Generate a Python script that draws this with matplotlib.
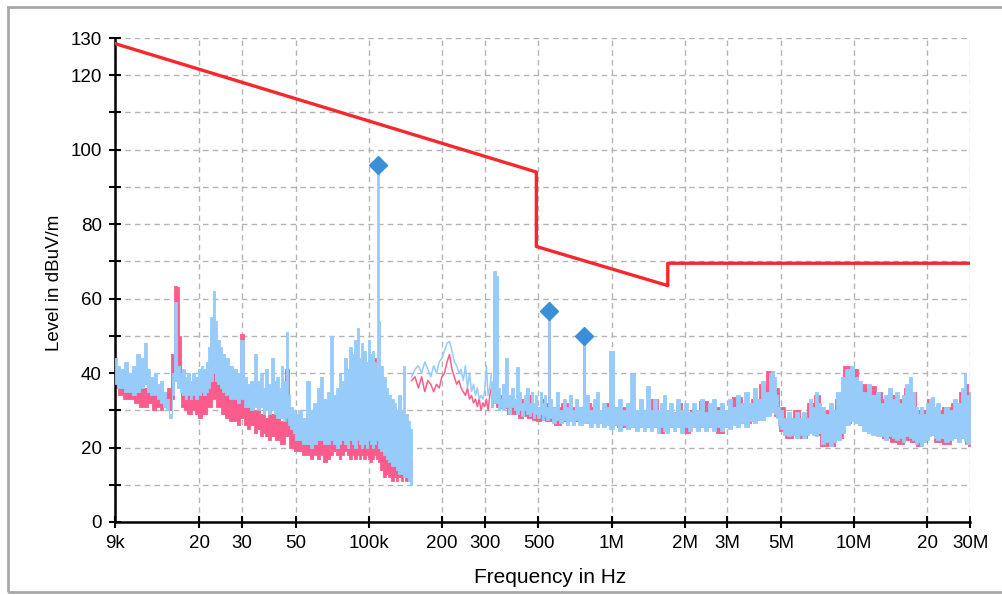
import matplotlib
matplotlib.use("Agg")
import matplotlib.pyplot as plt
from matplotlib.patches import Rectangle
from matplotlib.ticker import NullLocator

plt.rcParams['font.family'] = ['Liberation Sans', 'DejaVu Sans']

# limit line (kHz, dBuV/m)
limit_freq = [9, 490, 490, 1705, 1705, 30000]
limit_level = [128.5, 94.0, 74.0, 63.5, 69.5, 69.5]

# blue trace, 9k..150k sweep (kHz, upper, lower)
blue_lf_freq = [9.0, 9.3, 9.6, 10.0, 10.4, 10.8, 11.2, 11.6, 12.0, 12.4, 12.8, 13.2, 13.6, 14.0,
                14.4, 14.8, 15.2, 15.6, 16.0, 16.4, 16.8, 17.2, 17.6, 18.0, 18.5, 19.0, 19.5,
                20.0, 20.5, 21.0, 21.5, 22.0, 22.5, 23.0, 23.5, 24.0, 24.5, 25.0, 26.0, 27.0,
                28.0, 29.0, 30.0, 31.0, 32.0, 33.0, 34.0, 35.0, 36.0, 37.0, 38.0, 39.0, 40.0,
                41.0, 42.0, 43.0, 44.0, 45.0, 46.0, 47.0, 48.0, 49.0, 50.0, 52.0, 54.0, 56.0,
                58.0, 60.0, 62.0, 64.0, 66.0, 68.0, 70.0, 72.0, 74.0, 76.0, 78.0, 80.0, 82.0,
                84.0, 86.0, 88.0, 90.0, 92.0, 94.0, 96.0, 98.0, 100.0, 102.0, 104.0, 106.0,
                108.0, 110.0, 113.0, 116.0, 119.0, 122.0, 125.0, 128.0, 131.0, 134.0, 137.0,
                140.0, 143.0, 146.0, 150.0]
blue_lf_hi = [44, 42, 41, 43, 40, 42, 45, 44, 48, 41, 39, 40, 37, 38,
              35, 33, 29, 40, 59, 42, 40, 41, 39, 40, 38, 40, 39,
              41, 42, 41, 43, 47, 55, 62, 54, 49, 47, 45, 44, 42,
              41, 40, 49, 39, 37, 38, 45, 38, 40, 36, 41, 37, 44,
              38, 39, 36, 42, 38, 51, 34, 31, 30, 29, 30, 28, 38,
              30, 32, 36, 39, 33, 35, 50, 34, 36, 40, 38, 44, 41,
              47, 45, 49, 52, 44, 48, 46, 43, 49, 45, 46, 43,
              40, 54, 42, 39, 36, 34, 33, 32, 30, 34, 30,
              42, 29, 27, 25]
blue_lf_lo = [37, 36, 36, 35, 35, 34, 35, 36, 37, 35, 34, 34, 33, 32,
              31, 30, 28, 34, 38, 36, 35, 34, 33, 34, 33, 34, 33,
              34, 35, 34, 35, 36, 38, 40, 38, 37, 36, 35, 34, 33,
              33, 32, 33, 31, 31, 30, 31, 30, 31, 29, 30, 29, 30,
              29, 28, 28, 28, 27, 28, 26, 25, 24, 22, 22, 21, 21,
              20, 21, 22, 22, 21, 21, 22, 21, 20, 21, 22, 21, 20,
              22, 21, 20, 22, 21, 20, 21, 20, 22, 21, 20, 21,
              22, 20, 19, 18, 17, 16, 15, 15, 14, 13, 13,
              12, 12, 11, 10]

# pink trace, 9k..150k sweep
pink_lf_freq = [9.0, 9.5, 10.0, 10.5, 11.0, 11.5, 12.0, 12.5, 13.0, 13.5, 14.0, 14.5, 15.0,
                15.5, 16.0, 16.3, 16.6, 17.0, 17.5, 18.0, 18.5, 19.0, 19.5, 20.0, 21.0, 22.0,
                23.0, 24.0, 25.0, 26.0, 27.0, 28.0, 29.0, 30.0, 31.0, 32.0, 33.0, 34.0, 35.0,
                36.0, 37.0, 38.0, 39.0, 40.0, 42.0, 44.0, 46.0, 48.0, 50.0, 52.0, 54.0, 56.0,
                58.0, 60.0, 62.0, 64.0, 66.0, 68.0, 70.0, 72.0, 74.0, 76.0, 78.0, 80.0, 82.0,
                84.0, 86.0, 88.0, 90.0, 92.0, 94.0, 96.0, 98.0, 100.0, 102.0, 104.0, 106.0,
                108.0, 110.0, 113.0, 116.0, 119.0, 122.0, 125.0, 128.0, 131.0, 134.0, 137.0,
                140.0, 143.0, 146.0, 150.0]
pink_lf_hi = [40, 38, 39, 37, 40, 38, 36, 37, 35, 36, 34, 35, 36,
              45, 63.5, 63, 50, 38, 36, 37, 34, 37, 35, 36, 38, 42,
              47, 40, 37, 35, 34, 33, 32, 50.5, 33, 31, 32, 30, 31,
              29, 32, 28, 30, 29, 31, 27, 41, 28, 24, 23, 22, 24,
              21, 23, 22, 25, 22, 24, 26, 29, 24, 27, 25, 33, 26,
              30, 28, 27, 31, 26, 29, 25, 27, 28, 26, 30, 44,
              27, 28, 25, 22, 30, 23, 29, 21, 20, 19, 21,
              18, 19, 17, 16]
pink_lf_lo = [36, 34, 33, 33, 32, 31, 31, 32, 30, 31, 30, 31, 30,
              33, 40, 42, 37, 31, 30, 29, 29, 30, 29, 28, 29, 31,
              33, 31, 29, 28, 27, 27, 26, 28, 26, 25, 26, 24, 25,
              23, 24, 23, 22, 23, 22, 21, 23, 20, 19, 19, 18, 18,
              17, 18, 17, 18, 16, 17, 18, 19, 18, 17, 18, 19, 18,
              17, 18, 17, 18, 17, 18, 17, 18, 17, 16, 17, 18,
              17, 16, 14, 12, 13, 12, 11, 12, 11, 12, 11,
              12, 11, 11, 12]

# thin part of both traces, 150k..320k
mf_freq = [150, 155, 160, 165, 170, 175, 180, 185, 190, 195, 200, 205, 210, 215, 220, 225,
           230, 235, 240, 245, 250, 255, 260, 265, 270, 275, 280, 285, 290, 295, 300, 305,
           310, 315, 320]
blue_mf = [39, 41, 42, 40, 43, 41, 39, 42, 40, 43, 44, 46, 48, 48.5, 46, 43,
           42, 40, 41, 38, 42, 36, 40, 35, 37, 34, 36, 33, 34, 33, 35, 42,
           34, 36, 40]
pink_mf = [38, 39, 36, 39, 35, 38, 37, 35, 37, 36, 39, 40, 43, 45, 41, 39,
           37, 38, 36, 35, 34, 36, 33, 34, 32, 33, 31, 33, 30, 32, 31, 33,
           30, 34, 36]

# blue trace, 320k..30M
blue_hf_freq = [320, 330, 336, 342, 350, 360, 370, 380, 390, 400, 410, 420, 430, 440, 450,
                460, 470, 480, 490, 500, 510, 520, 530, 540, 560, 580, 600, 620, 640, 660,
                680, 700, 720, 740, 790, 820, 850, 875, 900, 930, 960, 1000, 1040, 1080,
                1120, 1170, 1220, 1270, 1320, 1370, 1410, 1460, 1510, 1560, 1610, 1650,
                1700, 1760, 1820, 1880, 1950, 2020, 2100, 2180, 2260, 2350, 2440, 2540,
                2640, 2740, 2850, 2960, 3080, 3200, 3330, 3460, 3600, 3740, 3890, 4040,
                4200, 4370, 4500, 4600, 4700, 4800, 4900, 5000, 5200, 5400, 5600, 5800,
                6000, 6200, 6400, 6600, 6800, 7000, 7200, 7400, 7700, 8000, 8300, 8600,
                9000, 9400, 9800, 10200, 10600, 11000, 11500, 12000, 12500, 13000, 13500,
                14000, 14500, 15000, 15500, 16000, 16500, 17000, 17500, 18000, 18500,
                19000, 19500, 20000, 20500, 21000, 21500, 22000, 23000, 24000, 25000,
                26000, 27000, 28000, 28700, 29300, 30000]
blue_hf_hi = [38, 67.5, 66, 36, 33, 37, 44, 34, 36, 33, 41.5, 35, 32, 34, 36,
              32, 35, 32, 34, 31, 35, 32, 34, 31, 33, 31, 35, 30, 33, 31,
              34, 30, 33, 31, 34, 30, 33, 35, 30, 32, 31, 46, 31, 33,
              30, 32, 40, 30, 33, 30, 36.5, 30, 33, 30, 32, 34,
              30, 32, 29.5, 33, 30, 32, 29.5, 32, 30, 33, 29.5, 32,
              33, 30, 32, 30, 33, 31, 34, 32, 35, 32, 36, 33,
              38, 35, 40, 40.5, 39, 34, 31, 30, 28, 29.5, 28, 29.5,
              28, 29.5, 28, 33, 31, 35, 32, 31, 29, 32, 30, 35,
              39, 41, 42, 39, 38, 35, 37, 34, 35, 32, 34,
              36, 33, 35, 32, 34, 37, 39, 35, 31, 29,
              31, 29, 32, 33, 33.5, 31, 32, 29, 31, 30,
              33, 32, 36, 40, 34, 35]
blue_hf_lo = [31, 32, 32, 30, 31, 30, 31, 29, 31, 30, 29, 30, 28.5, 30, 29,
              28.5, 29.5, 28, 29, 28, 29, 27.5, 28.5, 27.5, 28, 26.5, 27.5, 26.5, 27.5, 26,
              27, 26, 27.5, 26, 26.5, 25.5, 26.5, 25.5, 26.5, 25.5, 26, 25, 26, 24.5,
              26, 25, 25.5, 24.5, 25.5, 24.5, 25.5, 24.5, 25.5, 24, 25.5, 24.5,
              24, 25.5, 24.5, 25.5, 24, 25.5, 24.5, 25.5, 24.5, 25.5, 24.5, 25.5,
              24.5, 25.5, 24.5, 25.5, 25, 26, 25.5, 26.5, 25.5, 27, 26.5, 27.5,
              27.5, 28.5, 28.5, 29.5, 29, 28, 26, 25, 23.5, 23, 23.5, 22.5,
              23.5, 22.5, 23.5, 24, 23.5, 23, 24, 21, 21.5, 20.5, 21.5, 22,
              24, 26, 27, 26.5, 26, 24.5, 24, 23.5, 23, 23, 22,
              23, 22.5, 22, 22.5, 21.5, 23, 22.5, 22, 21, 21.5,
              20.5, 21.5, 22, 23, 23.5, 22.5, 22, 22.5, 21.5, 22,
              22.5, 21.5, 22.5, 22, 21, 21]

# pink trace, 320k..30M
pink_hf_freq = [320, 330, 340, 360, 380, 400, 420, 440, 460, 480, 500, 520, 540, 560, 600,
                640, 680, 720, 760, 800, 850, 900, 950, 1000, 1100, 1200, 1300, 1400, 1500,
                1600, 1700, 1800, 1900, 2000, 2200, 2400, 2600, 2800, 3000, 3300, 3600,
                3900, 4200, 4500, 4800, 5000, 5400, 5800, 6200, 6600, 7000, 7500, 8000,
                8600, 9400, 10000, 10800, 11500, 12000, 12500, 13500, 14500, 15500, 16500,
                17500, 18500, 19500, 20500, 22000, 24000, 26000, 28000, 29000, 30000]
pink_hf_hi = [34, 61, 34, 33, 33, 32, 33, 32, 34, 32, 31, 33, 32, 31, 31,
              32, 31, 30, 31, 32, 31, 30, 32, 31, 31, 30, 29.5, 30, 33,
              29, 30, 29.5, 32, 29.5, 30, 32.5, 30, 31, 30, 33.5, 32,
              33, 37, 40.5, 36, 31, 28, 30, 28, 32, 34, 30, 30,
              33, 42, 41, 37, 36, 36.5, 35, 33, 34, 33, 36,
              35, 30, 30, 33, 30, 31, 32, 35, 37, 35]
pink_hf_lo = [31, 32, 31, 30.5, 29, 29, 28, 28.5, 28, 27.5, 27, 27.5, 27, 27, 26,
              27, 27, 27, 27, 26.5, 27, 26.5, 26.5, 26, 25.5, 25.5, 25.5, 25.5, 25.5,
              24, 25.5, 25.5, 25.5, 24, 25.5, 25.5, 25.5, 24, 25.5, 26.5, 26.5,
              27.5, 28.5, 29.5, 28.5, 24.5, 22.5, 23.5, 22.5, 24.5, 23.5, 20.5, 20.5,
              22.5, 26.5, 27.5, 26, 24.5, 24.5, 23.5, 22.5, 21.5, 21, 22,
              21.5, 20.5, 21.5, 23.5, 21.5, 21, 22.5, 22.5, 21, 20.5]

# narrow peaks (kHz, base, top)
blue_peak_freq = [109, 551, 770]
blue_peak_base = [22, 30, 28]
blue_peak_top = [95.9, 56.7, 50.0]
pink_peak_freq = [551, 770]
pink_peak_base = [29, 28]
pink_peak_top = [58.5, 52.0]

# final measurement markers
marker_freq = [109, 551, 770]
marker_level = [95.9, 56.7, 50.0]

# axis ticks
xtick_freq = [9, 20, 30, 50, 100, 200, 300, 500, 1000, 2000, 3000, 5000, 10000, 20000, 30000]
xtick_labels = ['9k', '20', '30', '50', '100k', '200', '300', '500', '1M', '2M', '3M', '5M',
                '10M', '20', '30M']
ytick_vals = list(range(0, 131, 10))
ytick_labels = ['0', '', '20', '', '40', '', '60', '', '80', '', '100', '', '120', '130']

BLUE = '#96cbfa'
PINK = '#fb5c8c'
RED = '#f5282d'
MARK = '#3a8fd8'


def hz(values):
    return [v * 1e3 for v in values]


fig = plt.figure(figsize=(10.02, 5.95), dpi=100)
ax = fig.add_axes([0.1148, 0.1227, 0.8533, 0.8134])
ax.set_xscale('log')

# pink first, blue on top of it
ax.fill_between(hz(pink_lf_freq), pink_lf_lo, pink_lf_hi, step='mid', color=PINK, lw=0.6, zorder=2)
ax.fill_between(hz(pink_hf_freq), pink_hf_lo, pink_hf_hi, step='mid', color=PINK, lw=0.6, zorder=2)
ax.plot(hz(mf_freq), pink_mf, color=PINK, lw=1.1, zorder=2)
ax.vlines(hz(pink_peak_freq), pink_peak_base, pink_peak_top, color=PINK, lw=2, zorder=2)

ax.fill_between(hz(blue_lf_freq), blue_lf_lo, blue_lf_hi, step='mid', color=BLUE, lw=0.6, zorder=3)
ax.fill_between(hz(blue_hf_freq), blue_hf_lo, blue_hf_hi, step='mid', color=BLUE, lw=0.6, zorder=3)
ax.plot(hz(mf_freq), blue_mf, color=BLUE, lw=1.1, zorder=3)
ax.vlines(hz(blue_peak_freq), blue_peak_base, blue_peak_top, color=BLUE, lw=2, zorder=3)

ax.plot(hz(limit_freq), limit_level, color=RED, lw=2.4, zorder=4)
ax.plot(hz(marker_freq), marker_level, ls='none', marker='D', ms=9, color=MARK, zorder=5)

ax.set_xlim(9e3, 30e6)
ax.set_ylim(0, 130)
ax.set_xticks(hz(xtick_freq), xtick_labels)
ax.xaxis.set_minor_locator(NullLocator())
ax.set_yticks(ytick_vals, ytick_labels)
ax.tick_params(direction='inout', length=9, width=1.5, labelsize=13.5, colors='black', pad=5)

ax.set_axisbelow(True)
ax.grid(True, color='#b4b4b4', linestyle=(0, (4, 3)), lw=1)
for side in ['top', 'right']:
    ax.spines[side].set_visible(False)
for side in ['left', 'bottom']:
    ax.spines[side].set_linewidth(1.8)

ax.set_xlabel('Frequency in Hz', fontsize=15)
ax.set_ylabel('Level in dBuV/m', fontsize=13.5)
ax.xaxis.set_label_coords(0.509, -0.095)
ax.yaxis.set_label_coords(-0.061, 0.494)

# grey frame around the whole picture
fig.patches.append(Rectangle((8 / 1002, 3 / 595), 1.0, 585 / 595, transform=fig.transFigure,
                             fill=False, edgecolor='#a8a8a8', lw=2))

fig.savefig('out.png', dpi=100)
